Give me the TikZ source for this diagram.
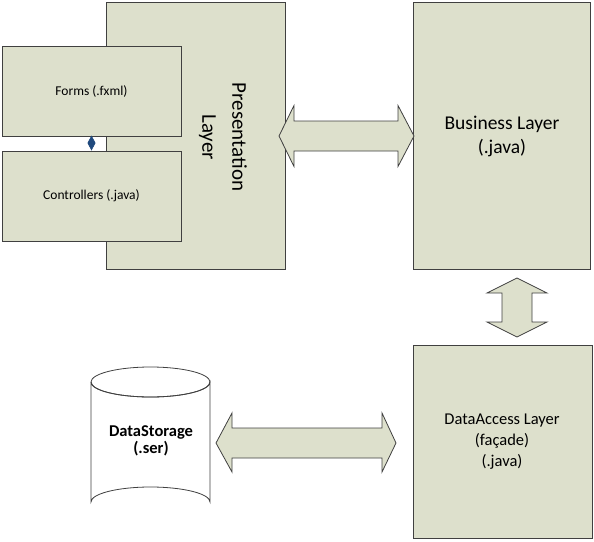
\documentclass[tikz,border=0pt]{standalone}
\usepackage{fontspec}
\setmainfont{Carlito}
\usetikzlibrary{arrows.meta}
\definecolor{boxfill}{RGB}{221,224,204}
\definecolor{boxline}{RGB}{64,64,64}
\definecolor{diam}{RGB}{31,73,125}
\begin{document}
\begin{tikzpicture}[x=1pt,y=-1pt,
  layer/.style={draw=boxline, fill=boxfill, line width=1pt, inner sep=0pt},
  blockarrow/.style={draw=boxline, fill=boxfill, line width=0.8pt, line join=miter},
  txt/.style={align=center, text=black, inner sep=0pt}]
\useasboundingbox (0,0) rectangle (594,541);
% presentation layer
\node[layer, minimum width=179pt, minimum height=267pt] (pres) at (195.5,135.5) {};
\node[txt, rotate=-90, font=\fontsize{21}{30}\selectfont] (prestxt) at (223,137) {Presentation\\Layer};
% forms and controllers
\node[layer, minimum width=179pt, minimum height=90pt, font=\fontsize{13.5}{15}\selectfont] (forms) at (91.5,91) {Forms (.fxml)};
\node[layer, minimum width=179pt, minimum height=90pt, font=\fontsize{13.5}{15}\selectfont] (ctrl) at (91.5,196) {Controllers (.java)};
\draw[diam, line width=0.6pt, {Diamond[length=15pt,width=8pt,fill=diam]}-] (ctrl.north) -- (forms.south);
% business layer
\node[layer, minimum width=177pt, minimum height=267pt] (bus) at (501.5,135.5) {};
\node[txt, font=\fontsize{19.5}{24}\selectfont] (bustxt) at (502,136) {Business Layer\\(.java)};
% data access layer
\node[layer, minimum width=179pt, minimum height=193pt] (dal) at (502.5,441.5) {};
\node[txt, font=\fontsize{16.5}{21}\selectfont] (daltxt) at (502,442) {DataAccess Layer\\(façade)\\(.java)};
% cylinder
\path[draw=boxline, fill=white, line width=0.8pt]
  (91,382) -- (91,502) arc[start angle=180, end angle=360, x radius=59.5, y radius=15] -- (210,382)
  arc[start angle=0, end angle=180, x radius=59.5, y radius=15];
\draw[boxline, line width=0.8pt] (150.5,382) ellipse[x radius=59.5, y radius=15];
\node[txt, font=\bfseries\fontsize{16.5}{17}\selectfont] (ds) at (151,441) {DataStorage\\(.ser)};
% block arrows
\draw[blockarrow] (279,136) -- (294,105.5) -- (294,121) -- (398,121) -- (398,105.5) -- (414,136)
  -- (398,166.5) -- (398,151) -- (294,151) -- (294,166.5) -- cycle;
\draw[blockarrow] (517,278) -- (547,293) -- (532,293) -- (532,322) -- (547,322) -- (517,337)
  -- (487,322) -- (502,322) -- (502,293) -- (487,293) -- cycle;
\draw[blockarrow] (216,443) -- (232,413) -- (232,428) -- (382,428) -- (382,413) -- (396,443)
  -- (382,472) -- (382,458) -- (232,458) -- (232,472) -- cycle;
\end{tikzpicture}
\end{document}
